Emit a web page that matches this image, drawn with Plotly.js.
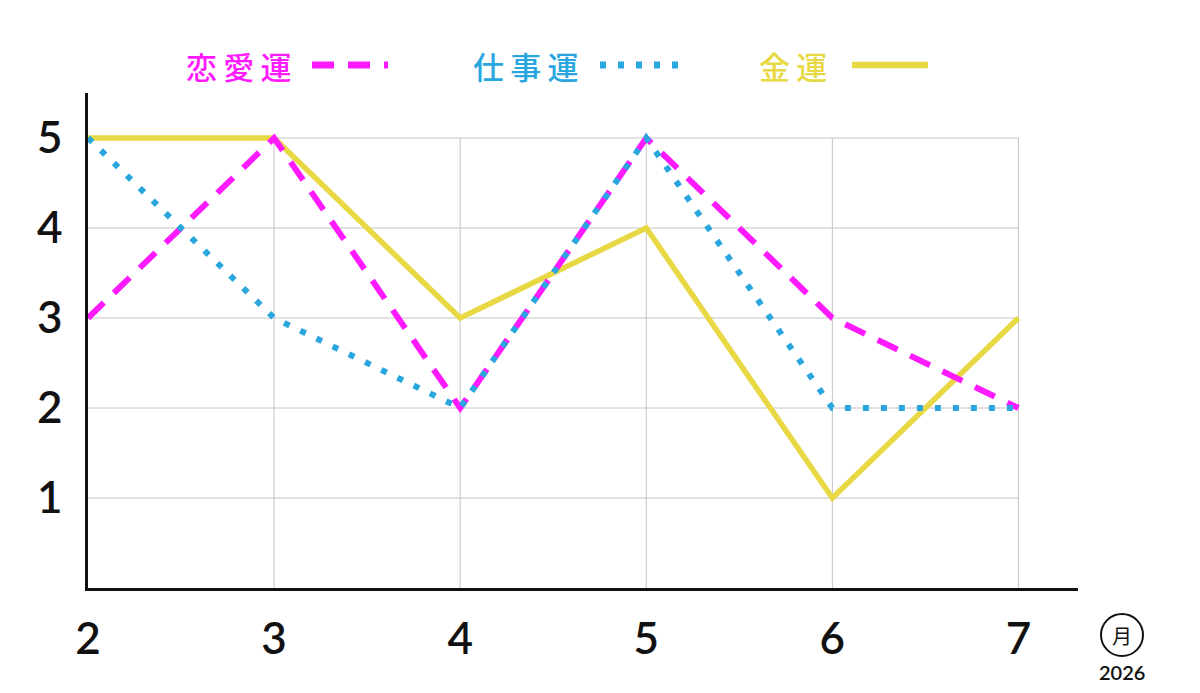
<!DOCTYPE html>
<html>
<head>
<meta charset="utf-8">
<script src="https://cdn.plot.ly/plotly-3.0.1.min.js"></script>
<style>html,body{margin:0;padding:0;background:#fff;}#chart{width:1200px;height:693px;}</style>
</head>
<body>
<div id="chart"></div>
<script>
var months = [2, 3, 4, 5, 6, 7];
var yTicks = [1, 2, 3, 4, 5];
var love = [3, 5, 2, 5, 3, 2];
var work = [5, 3, 2, 5, 2, 2];
var money = [5, 5, 3, 4, 1, 3];
var names = ['恋愛運', '仕事運', '金運'];
var colors = ['#ff1aff', '#2aa6df', '#e8d844'];

var numFont = 'Lato, "Noto Sans", sans-serif';
var jpFont = '"Noto Sans CJK JP", sans-serif';

var traceMoney = {
    x: months, y: money, name: names[2], mode: 'lines',
    line: {color: colors[2], width: 5.5}
};
var traceLove = {
    x: months, y: love, name: names[0], mode: 'lines',
    line: {color: colors[0], width: 6, dash: '22px,14px'}
};
var traceWork = {
    x: months, y: work, name: names[1], mode: 'lines',
    line: {color: colors[1], width: 6, dash: '6px,12px'}
};

var data = [traceMoney, traceLove, traceWork];

// grid only inside the data box
var shapes = [];
var xMin = months[0], xMax = months[months.length - 1];
var yTop = yTicks[yTicks.length - 1];
for (var i = 1; i < months.length; i++) {
    shapes.push({type: 'line', xref: 'x', yref: 'y', x0: months[i], x1: months[i], y0: 0, y1: yTop,
        line: {color: '#c4c4c4', width: 1}, layer: 'below'});
}
for (var j = 0; j < yTicks.length; j++) {
    shapes.push({type: 'line', xref: 'x', yref: 'y', x0: xMin, x1: xMax, y0: yTicks[j], y1: yTicks[j],
        line: {color: '#c4c4c4', width: 1}, layer: 'below'});
}

// custom legend: text then line sample
var legendX = [[312, 388], [600, 682], [852, 928]];
var legendTextX = [238, 525, 793];
var dashes = ['22px,14px', '6px,12px', 'solid'];
var widths = [6, 6, 5.5];
var annotations = [];
for (var k = 0; k < 3; k++) {
    shapes.push({type: 'line', xref: 'paper', yref: 'paper',
        x0: (legendX[k][0] - 88) / 990, x1: (legendX[k][1] - 88) / 990,
        y0: (588 - 65) / 495, y1: (588 - 65) / 495,
        line: {color: colors[k], width: widths[k] + 1, dash: dashes[k]}});
    annotations.push({xref: 'paper', yref: 'paper', x: (legendTextX[k] - 88) / 990, y: (588 - 65) / 495,
        text: names[k].split('').join('\u2009'), showarrow: false, xanchor: 'center', yanchor: 'middle',
        font: {family: jpFont, size: 31, weight: 500, color: colors[k]}});
}

// month marker
shapes.push({type: 'circle', xref: 'paper', yref: 'paper',
    x0: (1101 - 88) / 990, x1: (1143 - 88) / 990, y0: (588 - 656) / 495, y1: (588 - 614) / 495,
    line: {color: '#111', width: 2}});
annotations.push({xref: 'paper', yref: 'paper', x: (1122 - 88) / 990, y: (588 - 635) / 495,
    text: '月', showarrow: false, xanchor: 'center', yanchor: 'middle',
    font: {family: jpFont, size: 20, color: '#111'}});
annotations.push({xref: 'paper', yref: 'paper', x: (1122 - 88) / 990, y: (588 - 672) / 495,
    text: '2026', showarrow: false, xanchor: 'center', yanchor: 'middle',
    font: {family: numFont, size: 20, weight: 600, color: '#111'}});

var layout = {
    width: 1200, height: 693,
    margin: {l: 88, r: 122, t: 93, b: 105},
    paper_bgcolor: '#fff', plot_bgcolor: '#fff',
    showlegend: false,
    xaxis: {
        range: [2, 7.32], tickvals: months, ticktext: months.map(String),
        showgrid: false, zeroline: false, showline: true, linecolor: '#111', linewidth: 2.5,
        ticks: '', ticklabelstandoff: 10,
        tickfont: {family: numFont, size: 44, weight: 600, color: '#111'}
    },
    yaxis: {
        range: [0, 5.5], tickvals: yTicks, ticktext: yTicks.map(String),
        showgrid: false, zeroline: false, showline: true, linecolor: '#111', linewidth: 2.5,
        ticks: '', ticklabelstandoff: 14,
        tickfont: {family: numFont, size: 44, weight: 600, color: '#111'}
    },
    shapes: shapes,
    annotations: annotations
};

Plotly.newPlot('chart', data, layout, {displayModeBar: false});
</script>
</body>
</html>
